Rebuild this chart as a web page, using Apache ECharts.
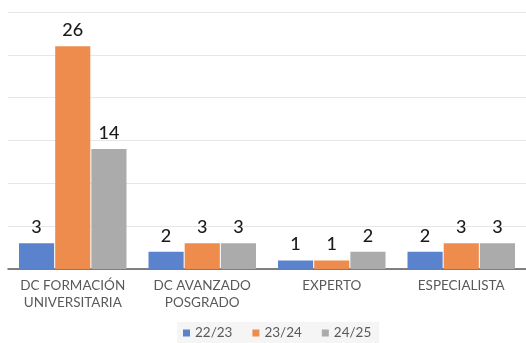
<!DOCTYPE html>
<html>
<head>
<meta charset="utf-8">
<script src="https://cdn.jsdelivr.net/npm/echarts@6/dist/echarts.min.js"></script>
<style>
  html, body { margin: 0; padding: 0; background: #ffffff; }
  #chart { width: 526px; height: 343px; }
</style>
</head>
<body>
<div id="chart"></div>
<script>
// Programas por curso académico
const categories = ['DC FORMACIÓN\nUNIVERSITARIA', 'DC AVANZADO\nPOSGRADO', 'EXPERTO', 'ESPECIALISTA'];
const seriesNames = ['22/23', '23/24', '24/25'];
const values2223 = [3, 2, 1, 2];
const values2324 = [26, 3, 1, 3];
const values2425 = [14, 3, 2, 3];

const colors = ['#5b82cd', '#ee8c4d', '#ababab'];
const fontFamily = 'Lato, "Open Sans", sans-serif';

const chart = echarts.init(document.getElementById('chart'), null, { renderer: 'canvas' });

function makeSeries(name, data, color) {
  return {
    name: name,
    type: 'bar',
    data: data,
    barGap: '3%',
    barCategoryGap: '17%',
    itemStyle: { color: color },
    label: {
      show: true,
      position: 'top',
      distance: 7,
      color: '#1a1a1a',
      fontSize: 18,
      fontWeight: 500,
      fontFamily: fontFamily
    }
  };
}

chart.setOption({
  animation: false,
  grid: { left: 8, top: 12, width: 524, height: 257 },
  xAxis: {
    type: 'category',
    data: categories,
    axisTick: { show: false },
    axisLine: { lineStyle: { color: '#595959', width: 1.5 } },
    axisLabel: {
      color: '#595959',
      fontSize: 13.5,
      lineHeight: 17,
      margin: 8,
      fontFamily: fontFamily,
      interval: 0
    }
  },
  yAxis: {
    type: 'value',
    min: 0,
    max: 30,
    interval: 5,
    axisLabel: { show: false },
    axisLine: { show: false },
    axisTick: { show: false },
    splitLine: { lineStyle: { color: '#e6e6e6', width: 1 } }
  },
  legend: {
    left: 177,
    top: 322,
    data: seriesNames,
    icon: 'rect',
    itemWidth: 7,
    itemHeight: 7,
    itemGap: 20,
    backgroundColor: '#f5f5f5',
    padding: [4, 8, 8, 6],
    textStyle: { color: '#595959', fontSize: 13.5, fontFamily: fontFamily }
  },
  series: [
    makeSeries(seriesNames[0], values2223, colors[0]),
    makeSeries(seriesNames[1], values2324, colors[1]),
    makeSeries(seriesNames[2], values2425, colors[2])
  ]
});
</script>
</body>
</html>
